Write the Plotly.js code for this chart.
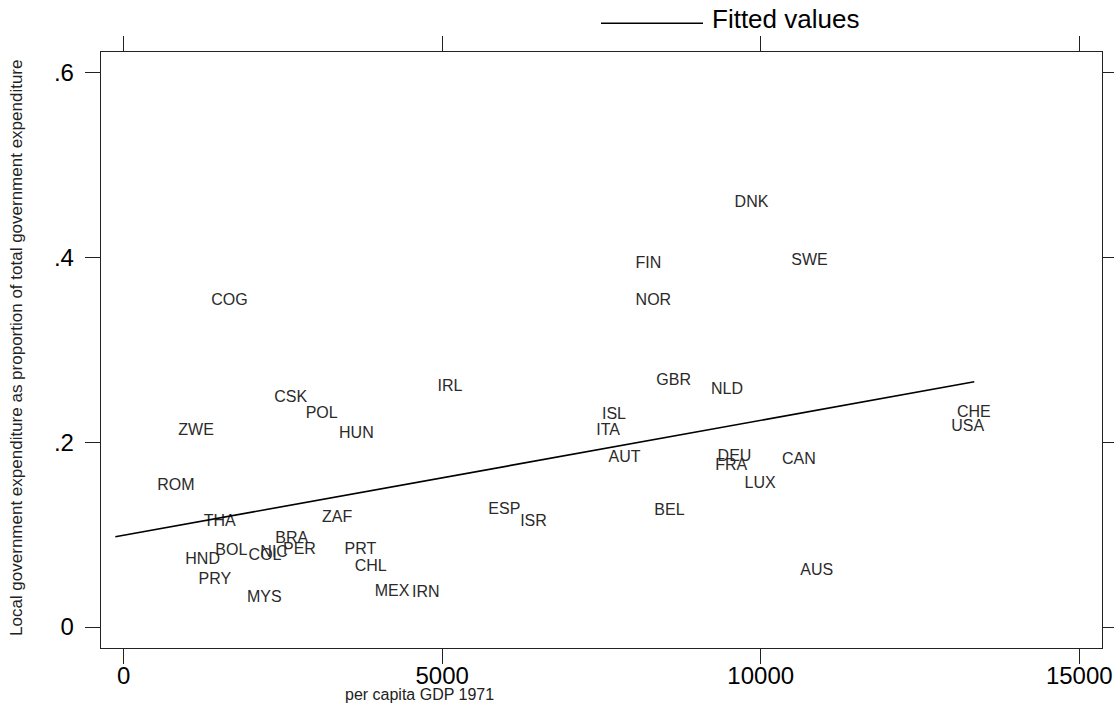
<!DOCTYPE html>
<html>
<head>
<meta charset="utf-8">
<script src="https://cdn.plot.ly/plotly-3.0.1.min.js"></script>
<style>
html,body{margin:0;padding:0;background:#fff;}
#chart{width:1114px;height:713px;}
</style>
</head>
<body>
<div id="chart"></div>
<script>
// Country codes (marker labels)
var countries = ["COG","ZWE","CSK","POL","HUN","IRL","DNK","FIN","NOR","SWE",
                 "GBR","NLD","ISL","ITA","AUT","DEU","FRA","LUX","CAN","BEL",
                 "CHE","USA","AUS","ESP","ISR","ROM","THA","ZAF","BRA","HND",
                 "BOL","COL","NIC","PER","PRY","MYS","PRT","CHL","MEX","IRN"];
// per capita GDP 1971
var gdp = [1376, 858, 2365, 2857, 3381, 4928, 9590, 8036, 8036, 10480,
           8361, 9220, 7509, 7419, 7612, 9323, 9287, 9747, 10334, 8330,
           13080, 12991, 10621, 5724, 6224, 529, 1256, 3114, 2381, 968,
           1439, 1962, 2146, 2502, 1177, 1937, 3469, 3626, 3940, 4526];
// Local government expenditure as proportion of total government expenditure
var localShare = [0.3534, 0.2127, 0.2478, 0.2304, 0.2091, 0.2603, 0.4594, 0.3931, 0.3534, 0.3966,
                  0.2665, 0.2567, 0.2297, 0.2124, 0.1828, 0.1835, 0.1748, 0.1550, 0.1807, 0.1251,
                  0.2315, 0.2170, 0.0609, 0.1269, 0.1139, 0.1529, 0.1132, 0.1179, 0.0952, 0.0728,
                  0.0818, 0.0764, 0.0801, 0.0829, 0.0512, 0.0314, 0.0829, 0.0645, 0.0374, 0.0368];
// Fitted values line (endpoints)
var fitX = [-130, 13352];
var fitY = [0.0977, 0.2654];
// Tick values / labels
var xTickVals = [0, 5000, 10000, 15000];
var xTickText = ["0", "5000", "10000", "15000"];
var yTickVals = [0, 0.2, 0.4, 0.6];
var yTickText = ["0", ".2", ".4", ".6"];

var FONT = "Liberation Sans, Arial, Helvetica, sans-serif";

var traces = [
  {
    type: "scatter", mode: "text",
    x: gdp, y: localShare, text: countries,
    textposition: "middle right",
    textfont: {family: FONT, size: 16, color: "#2a2a2a"},
    hoverinfo: "skip", showlegend: false
  },
  {
    type: "scatter", mode: "lines",
    x: fitX, y: fitY,
    line: {color: "#000", width: 1.6},
    name: "Fitted values",
    hoverinfo: "skip", showlegend: false
  }
];

var axisCommon = {
  showgrid: false, zeroline: false,
  showline: true, linecolor: "#222", linewidth: 1.3,
  mirror: "ticks",
  ticks: "outside", ticklen: 15, tickwidth: 1, tickcolor: "#222",
  tickfont: {family: FONT, size: 24, color: "#000"}
};

var layout = {
  width: 1114, height: 713,
  margin: {l: 101, r: 12, t: 52, b: 65, pad: 0},
  paper_bgcolor: "#fff", plot_bgcolor: "#fff",
  showlegend: false,
  xaxis: Object.assign({}, axisCommon, {
    range: [-355, 15357],
    tickmode: "array", tickvals: xTickVals, ticktext: xTickText,
    ticklabelstandoff: -9
  }),
  yaxis: Object.assign({}, axisCommon, {
    range: [-0.0227, 0.6224],
    tickmode: "array", tickvals: yTickVals, ticktext: yTickText,
    ticklabelstandoff: 6
  }),
  shapes: [
    {type: "line", xref: "paper", yref: "paper",
     x0: 0.4995, x1: 0.6014, y0: 1.0482, y1: 1.0482,
     line: {color: "#000", width: 1.3}}
  ],
  annotations: [
    {text: "Fitted values", xref: "paper", yref: "paper",
     x: 0.6084, y: 1.0554, xanchor: "left", yanchor: "middle",
     showarrow: false, font: {family: FONT, size: 26, color: "#000"}},
    {text: "per capita GDP 1971", xref: "paper", yref: "paper",
     x: 0.3177, y: -0.0772, xanchor: "center", yanchor: "middle",
     showarrow: false, font: {family: FONT, size: 16, color: "#222"}},
    {text: "Local government expenditure as proportion of total government expenditure",
     xref: "paper", yref: "paper",
     x: -0.0839, y: 0.5034, xanchor: "center", yanchor: "middle", textangle: -90,
     showarrow: false, font: {family: FONT, size: 17, color: "#222"}}
  ]
};

Plotly.newPlot("chart", traces, layout, {displayModeBar: false, staticPlot: true});
</script>
</body>
</html>
